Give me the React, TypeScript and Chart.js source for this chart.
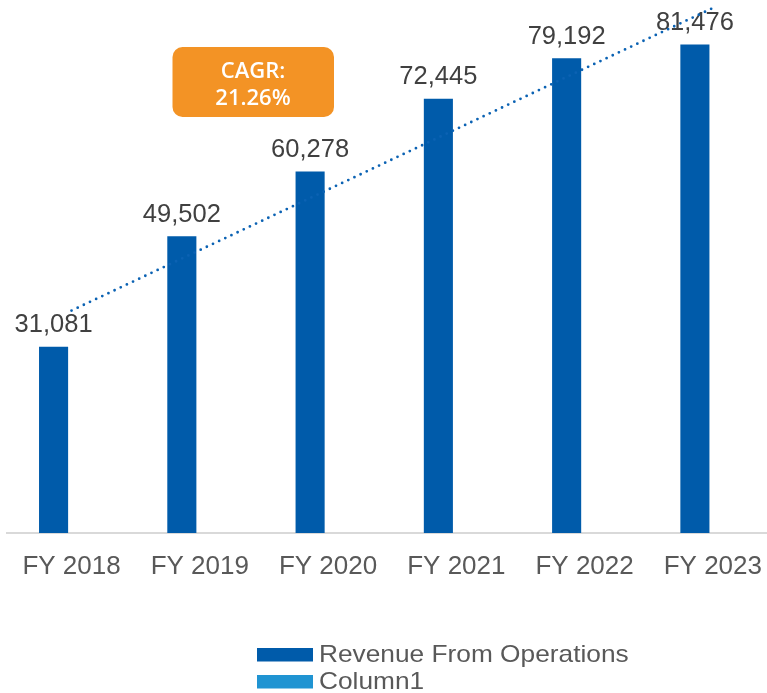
import React, { useEffect, useRef } from "react";
import { Chart, registerables } from "chart.js";

Chart.register(...registerables);

const categories = ["FY 2018", "FY 2019", "FY 2020", "FY 2021", "FY 2022", "FY 2023"];
const revenue = [31081, 49502, 60278, 72445, 79192, 81476];
const column1: (number | null)[] = [null, null, null, null, null, null];
const trendValues: (number | null)[] = [37100, 47190, 57280, 67370, 77470, 87560];
const seriesNames = ["Revenue From Operations", "Column1"];
const cagrLines = ["CAGR:", "21.26%"];
const yMin = 0;
const yMax = 88900;

const BAR_COLOR = "#005BAA";
const COL1_COLOR = "#2094D2";
const TREND_COLOR = "#0B62B3";
const TEXT_GREY = "#595959";
const LABEL_GREY = "#404040";
const FONT = '"Liberation Sans", Arial, sans-serif';

const valueLabels = {
  id: "valueLabels",
  afterDatasetDraw(chart: any, args: any) {
    if (args.index !== 0) return;
    const ctx = chart.ctx;
    const meta = chart.getDatasetMeta(0);
    const data = chart.data.datasets[0].data;
    ctx.save();
    ctx.font = `25.5px ${FONT}`;
    ctx.fillStyle = LABEL_GREY;
    ctx.textAlign = "center";
    ctx.textBaseline = "alphabetic";
    meta.data.forEach((el: any, i: number) => {
      const v = data[i];
      if (v == null) return;
      ctx.fillText(Number(v).toLocaleString("en-US"), el.x, el.y - 14.5);
    });
    ctx.restore();
  },
};

const cagrBox = {
  id: "cagrBox",
  afterDraw(chart: any) {
    const ctx = chart.ctx;
    ctx.save();
    ctx.fillStyle = "#F39325";
    ctx.beginPath();
    ctx.roundRect(172.5, 47, 161.5, 70, 10);
    ctx.fill();
    ctx.fillStyle = "#FFFFFF";
    ctx.font = `600 22px "Open Sans", "Noto Sans", sans-serif`;
    ctx.textAlign = "center";
    ctx.textBaseline = "alphabetic";
    ctx.fillText(cagrLines[0], 253, 78);
    ctx.fillText(cagrLines[1], 253, 104.5);
    ctx.restore();
  },
};

const customLegend = {
  id: "customLegend",
  afterDraw(chart: any) {
    const ctx = chart.ctx;
    ctx.save();
    ctx.font = `24px ${FONT}`;
    ctx.textAlign = "left";
    ctx.textBaseline = "alphabetic";
    const items = [0, 1];
    items.forEach((di, row) => {
      const ds = chart.data.datasets[di];
      const top = 648 + row * 27;
      ctx.fillStyle = ds.backgroundColor;
      ctx.fillRect(257, top, 56, 13.5);
      ctx.fillStyle = TEXT_GREY;
      ctx.save();
      ctx.translate(319, top + 13.7);
      ctx.scale(1.095, 1);
      ctx.fillText(ds.label, 0, 0);
      ctx.restore();
    });
    ctx.restore();
  },
};

export default function App() {
  const canvasRef = useRef<HTMLCanvasElement | null>(null);

  useEffect(() => {
    document.body.style.margin = "0";
    const canvas = canvasRef.current;
    if (!canvas) return;
    const chart = new Chart(canvas, {
      type: "bar",
      data: {
        labels: categories,
        datasets: [
          {
            type: "bar",
            label: seriesNames[0],
            data: revenue,
            backgroundColor: BAR_COLOR,
            borderWidth: 0,
            categoryPercentage: 0.56,
            barPercentage: 0.81,
            order: 1,
          },
          {
            type: "bar",
            label: seriesNames[1],
            data: column1,
            backgroundColor: COL1_COLOR,
            borderWidth: 0,
            categoryPercentage: 0.56,
            barPercentage: 0.81,
            order: 1,
          },
          {
            type: "line",
            label: "Trend",
            data: trendValues,
            borderColor: TREND_COLOR,
            borderWidth: 2.8,
            borderDash: [0, 6.8],
            borderCapStyle: "round",
            pointRadius: 0,
            fill: false,
            tension: 0,
            order: 0,
          },
        ] as any,
      },
      options: {
        animation: false,
        responsive: false,
        maintainAspectRatio: false,
        devicePixelRatio: 1,
        layout: { padding: { left: 7.4, right: 0, top: 0, bottom: 92.8 } },
        plugins: {
          legend: { display: false },
          tooltip: { enabled: false },
          title: { display: false },
        },
        scales: {
          x: {
            grid: { display: false, drawTicks: false },
            border: { display: true, color: "#D9D9D9", width: 2 },
            ticks: {
              color: TEXT_GREY,
              font: { family: FONT, size: 26 },
              padding: 18,
              maxRotation: 0,
              autoSkip: false,
            },
          },
          y: {
            display: false,
            min: yMin,
            max: yMax,
          },
        },
      },
      plugins: [valueLabels, cagrBox, customLegend],
    });
    return () => chart.destroy();
  }, []);

  return (
    <div style={{ width: 767, height: 693, overflow: "hidden", position: "relative", background: "#fff" }}>
      <canvas ref={canvasRef} width={780} height={693} style={{ display: "block" }} />
    </div>
  );
}
